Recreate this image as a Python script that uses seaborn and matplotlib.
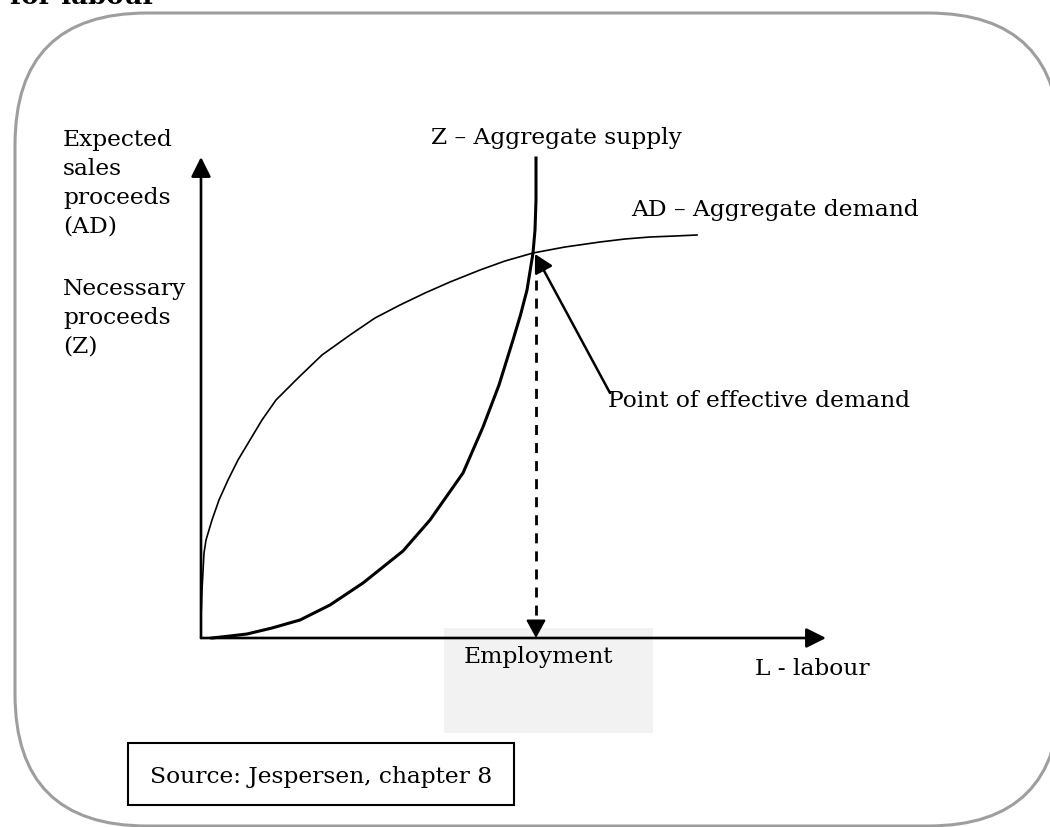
import numpy as np
import pandas as pd
import matplotlib
matplotlib.use("Agg")
import matplotlib.pyplot as plt
from matplotlib.patches import FancyBboxPatch, Rectangle
import seaborn as sns

# --- dados (L no eixo x, receitas no eixo y) ---
z_L = [0.11, 0.29, 0.46, 0.71, 0.99, 1.29, 1.62, 2.02, 2.29, 2.62, 2.82, 2.98,
       3.12, 3.195, 3.26, 3.32, 3.34, 3.35, 3.35]
z_Y = [0.00, 0.02, 0.04, 0.10, 0.18, 0.33, 0.55, 0.87, 1.18, 1.65, 2.11, 2.53,
       2.98, 3.23, 3.48, 3.85, 4.08, 4.38, 4.80]

ad_L = [0.00, 0.005, 0.01, 0.03, 0.05, 0.11, 0.18, 0.27, 0.37, 0.49, 0.61, 0.75,
        0.97, 1.21, 1.49, 1.74, 1.99, 2.24, 2.49, 2.79, 3.04, 3.32, 3.64, 3.99,
        4.24, 4.49, 4.74, 4.96]
ad_Y = [0.21, 0.33, 0.48, 0.85, 0.98, 1.18, 1.38, 1.58, 1.78, 1.98, 2.18, 2.38,
        2.60, 2.83, 3.03, 3.20, 3.33, 3.45, 3.56, 3.68, 3.77, 3.85, 3.91, 3.96,
        3.99, 4.01, 4.02, 4.03]

L_star = 3.35   # emprego de equilibrio
Y_star = 3.85
L_max = 6.25    # fim do eixo x
Y_max = 4.81    # fim do eixo y

df_z = pd.DataFrame({"L": z_L, "Y": z_Y})
df_ad = pd.DataFrame({"L": ad_L, "Y": ad_Y})

plt.rcParams["font.family"] = ["DejaVu Serif"]
fs = 16.8

fig = plt.figure(figsize=(10.5, 8.27), dpi=100)
ax = fig.add_axes([0, 0, 1, 1])

# moldura arredondada cinza
moldura = FancyBboxPatch((-1.86, -1.88), 10.45, 8.13,
                         boxstyle="round,pad=0,rounding_size=1.32",
                         fc="white", ec="#9e9e9e", lw=2.2, zorder=0)
ax.add_patch(moldura)

# titulo cortado no topo
ax.text(-1.91, 6.34, "for labour", fontsize=18.7, fontweight="bold",
        ha="left", va="baseline")

# caixa cinza atras de "Employment"
ax.add_patch(Rectangle((2.43, -0.95), 2.09, 1.05, fc="#f2f2f2", ec="none", zorder=1))

# eixos com setas
arrow_axis = dict(arrowstyle="-|>,head_length=0.6,head_width=0.3", mutation_scale=20,
                  lw=1.9, color="black", shrinkA=0, shrinkB=0)
ax.annotate("", xy=(0, Y_max), xytext=(0, 0), arrowprops=arrow_axis, zorder=3)
ax.annotate("", xy=(L_max, 0), xytext=(0, 0), arrowprops=arrow_axis, zorder=3)

# curvas
sns.lineplot(data=df_ad, x="L", y="Y", sort=False, estimator=None, color="black",
             lw=1.2, ax=ax, zorder=4)
sns.lineplot(data=df_z, x="L", y="Y", sort=False, estimator=None, color="black",
             lw=2.2, ax=ax, zorder=4)
ax.set_xlim(-2.01, 8.49)
ax.set_ylim(-1.89, 6.38)
ax.axis("off")

# linha tracejada do equilibrio ate o eixo + ponta cheia
ax.plot([L_star, L_star], [Y_star - 0.09, 0.12], color="black", lw=2,
        linestyle=(0, (3.6, 2.9)), zorder=3)
ax.annotate("", xy=(L_star, 0), xytext=(L_star, 0.16),
            arrowprops=dict(arrowstyle="-|>,head_length=0.55,head_width=0.3",
                            mutation_scale=20, lw=1.5, color="black",
                            shrinkA=0, shrinkB=0),
            zorder=3)

# seta do ponto de demanda efetiva
ax.annotate("", xy=(L_star - 0.01, Y_star - 0.01), xytext=(4.09, 2.45),
            arrowprops=dict(arrowstyle="-|>,head_length=0.55,head_width=0.3",
                            mutation_scale=20, lw=1.8, color="black",
                            shrinkA=0, shrinkB=0),
            zorder=5)

# textos
ax.text(2.30, 4.94, "Z – Aggregate supply", fontsize=fs, ha="left", va="baseline")
ax.text(4.30, 4.22, "AD – Aggregate demand", fontsize=fs, ha="left", va="baseline")
ax.text(4.07, 2.31, "Point of effective demand", fontsize=fs, ha="left", va="baseline")
ax.text(2.63, -0.25, "Employment", fontsize=fs, ha="left", va="baseline", zorder=2)
ax.text(5.54, -0.37, "L - labour", fontsize=fs, ha="left", va="baseline")
# va="baseline" em texto de varias linhas usa a ultima linha
ax.text(-1.38, 4.05, "Expected\nsales\nproceeds\n(AD)", fontsize=fs, ha="left",
        va="baseline", linespacing=1.41)
ax.text(-1.38, 2.85, "Necessary\nproceeds\n(Z)", fontsize=fs, ha="left",
        va="baseline", linespacing=1.41)

# caixa da fonte
ax.add_patch(Rectangle((-0.73, -1.67), 3.86, 0.62, fc="white", ec="black", lw=1.5, zorder=2))
ax.text(-0.51, -1.45, "Source: Jespersen, chapter 8", fontsize=fs, ha="left",
        va="baseline", zorder=3)

fig.savefig("out.png", dpi=100)
